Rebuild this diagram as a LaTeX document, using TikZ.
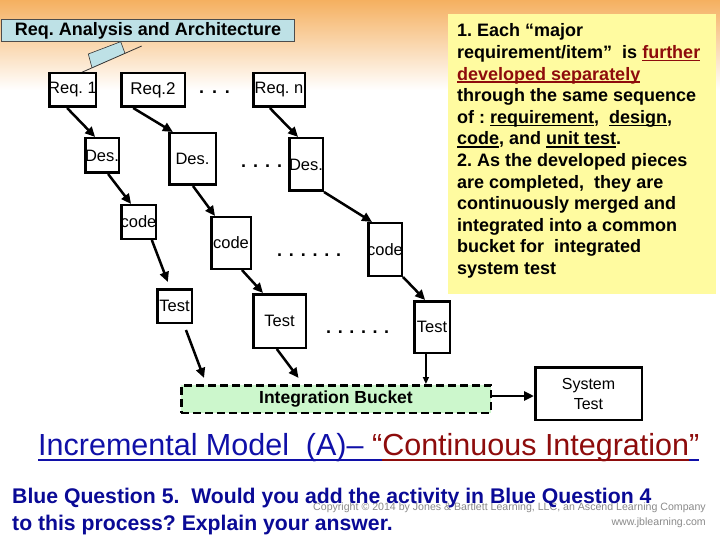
\documentclass[tikz,border=0pt]{standalone}
\usepackage{fontspec}
\setmainfont{Liberation Sans}
\usetikzlibrary{arrows.meta,calc}
\definecolor{bgor}{HTML}{F5B060}
\definecolor{ylw}{HTML}{FFFBA0}
\definecolor{ltblue}{HTML}{BEE1E6}
\definecolor{ltgreen}{HTML}{CCF7CC}
\definecolor{ttblue}{HTML}{1010A8}
\definecolor{ttred}{HTML}{8E0C0C}
\definecolor{qblue}{HTML}{0A0A96}
\definecolor{cpgrey}{HTML}{8A8A8A}
\newcommand\myul[4]{\setbox0\hbox{#4}\leavevmode\rlap{\color{#1}\rule[-#2]{\wd0}{#3}}\box0}
\frenchspacing
\begin{document}
\begin{tikzpicture}[x=1pt,y=-1pt,
  box/.style={draw, line width=2.5pt, fill=white, inner sep=0pt, font=\fontsize{16.5}{18}\selectfont},
  arr/.style={line width=2.5pt, -{Triangle[length=10pt,width=9pt]}},
  thinarr/.style={line width=1.4pt, -{Triangle[length=7pt,width=6pt]}},
  dotrow/.style={anchor=base west, inner sep=0pt, font=\fontsize{18}{20}\bfseries\selectfont},
  txt/.style={inner sep=0pt}]
\useasboundingbox (0,0) rectangle (720,540);
\fill[white] (0,0) rectangle (720,540);
\shade[top color=bgor, bottom color=white] (0,0) rectangle (720,90);

% note box
\fill[ylw] (448,14) rectangle (716,294);
\node[txt, anchor=north west, align=left, font=\fontsize{18}{21.6}\bfseries\selectfont] (note) at (457,21.6)
{\strut 1. Each “major\\
requirement/item”\ \ is \textcolor{ttred}{\myul{ttred}{2.8pt}{1.5pt}{further}}\\
\textcolor{ttred}{\myul{ttred}{2.8pt}{1.5pt}{developed separately}}\\
through the same sequence\\
of : \myul{black}{2.8pt}{1.5pt}{requirement},\ \ \myul{black}{2.8pt}{1.5pt}{design},\\
\myul{black}{2.8pt}{1.5pt}{code}, and \myul{black}{2.8pt}{1.5pt}{unit test}.\\
2. As the developed pieces\\
are completed,\ \ they are\\
continuously merged and\\
integrated into a common\\
bucket for\ \ integrated\\
system test};

% header
\node[draw=black!70, line width=0.8pt, fill=ltblue, minimum width=293pt, minimum height=22pt, inner sep=0pt,
      font=\fontsize{18}{20}\bfseries\selectfont] (hdr) at (148,30.5) {Req. Analysis and Architecture};
\filldraw[fill=ltblue, draw=black!80, line width=0.6pt] (92,67.8) -- (88.3,54) -- (120.7,41.7) -- (125,53.3);
\draw[black!80, line width=0.8pt] (77.3,74.3) -- (141.7,46);

% boxes
\node[box, minimum width=46.5pt, minimum height=33.5pt] (req1) at (72.5,90) {\makebox[0pt]{Req. 1}};
\node[box, minimum width=63.5pt, minimum height=33.5pt, font=\fontsize{17}{18}\selectfont] (req2) at (153,90) {\makebox[0pt]{Req.2}};
\node[box, minimum width=51.5pt, minimum height=33.5pt] (reqn) at (279,90) {\makebox[0pt]{Req. n}};
\node[box, minimum width=33.5pt, minimum height=34.5pt] (des1) at (102,155.5) {\makebox[0pt]{Des.}};
\node[box, minimum width=46.5pt, minimum height=51.5pt] (des2) at (192.5,159) {\makebox[0pt]{Des.}};
\node[box, minimum width=33.5pt, minimum height=52.5pt] (desn) at (306,164.5) {\makebox[0pt]{Des.}};
\node[box, minimum width=34.5pt, minimum height=33.5pt] (code1) at (138.5,222) {\makebox[0pt]{code}};
\node[box, minimum width=39.5pt, minimum height=51.5pt] (code2) at (231,243) {\makebox[0pt]{code}};
\node[box, minimum width=33.5pt, minimum height=52.5pt] (coden) at (385,249.5) {\makebox[0pt]{code}};
\node[box, minimum width=34.5pt, minimum height=33.5pt] (test1) at (174.5,306) {\makebox[0pt]{Test}};
\node[box, minimum width=52.5pt, minimum height=53.5pt] (test2) at (279.5,321) {\makebox[0pt]{Test}};
\node[box, minimum width=35.5pt, minimum height=51.5pt] (testn) at (432,327) {\makebox[0pt]{Test}};

% dots
\node[dotrow] (dots1) at (199,94) {.\hspace{7.8pt}.\hspace{7.8pt}.};
\node[dotrow] (dots2) at (241,167.5) {.\hspace{7pt}.\hspace{7pt}.\hspace{7pt}.};
\node[dotrow] (dots3) at (277,256.5) {.\hspace{6.8pt}.\hspace{6.8pt}.\hspace{6.8pt}.\hspace{6.8pt}.\hspace{6.8pt}.};
\node[dotrow] (dots4) at (326,333.5) {.\hspace{6.6pt}.\hspace{6.6pt}.\hspace{6.6pt}.\hspace{6.6pt}.\hspace{6.6pt}.};

% bucket and system test
\node[draw, dash pattern=on 8pt off 4pt, line width=2.5pt, fill=ltgreen, minimum width=309.5pt, minimum height=27.5pt,
      inner sep=0pt, font=\fontsize{17.5}{20}\bfseries\selectfont] (bucket) at (336,399) {Integration Bucket};
\node[box, minimum width=106.5pt, minimum height=52.5pt, align=center, font=\fontsize{16}{20}\selectfont] (sys) at (588.5,393.5) {System\\Test};

% arrows
\draw[arr] ($(req1.south west)!0.39!(req1.south east)$) -- ($(des1.north west)!0.31!(des1.north east)$);
\draw[arr] ($(req2.south west)!0.2!(req2.south east)$) -- ($(des2.north west)!0.1!(des2.north east)$);
\draw[arr] ($(reqn.south west)!0.33!(reqn.south east)$) -- ($(desn.north west)!0.28!(desn.north east)$);
\draw[arr] ($(des1.south west)!0.67!(des1.south east)$) -- ($(code1.north west)!0.3!(code1.north east)$);
\draw[arr] ($(des2.south west)!0.51!(des2.south east)$) -- ($(code2.north west)!0.12!(code2.north east)$);
\draw[arr] (desn.south east) -- ($(coden.north west)!0.14!(coden.north east)$);
\draw[arr] ($(code1.south west)!0.86!(code1.south east)$) -- ($(test1.north west)!0.32!(test1.north east)+(0,-6)$);
\draw[arr] ($(code2.south west)!0.76!(code2.south east)$) -- ($(test2.north west)!0.2!(test2.north east)$);
\draw[arr] (coden.south east) -- ($(testn.north west)!0.32!(testn.north east)$);
\draw[arr] ($(test1.south west)!0.81!(test1.south east)+(0,6)$) -- ($(bucket.north west)!0.077!(bucket.north east)+(0,-6)$);
\draw[arr] ($(test2.south west)!0.45!(test2.south east)$) -- ($(bucket.north west)!0.38!(bucket.north east)+(0,-6)$);
\coordinate (tb) at ($(testn.south west)!0.34!(testn.south east)$);
\draw[thinarr] (tb) -- (tb |- bucket.north);
\coordinate (be) at ($(bucket.east)+(0,-3)$);
\draw[arr] (be) -- (be -| sys.west);

% title
\node[txt, anchor=base west, font=\fontsize{30.5}{34}\selectfont] (title) at (38,455)
{\myul{ttblue}{6pt}{2pt}{\textcolor{ttblue}{Incremental Model\ \ (A)– }\textcolor{ttred}{“}}\myul{ttred}{6pt}{2pt}{\textcolor{ttred}{Continuous Integration}}\myul{ttblue}{6pt}{2pt}{\textcolor{ttred}{”}}};

% copyright
\node[txt, anchor=base east, font=\fontsize{10.6}{12}\selectfont, text=cpgrey] (cp1) at (706,510) {Copyright © 2014 by Jones \& Bartlett Learning, LLC, an Ascend Learning Company};
\node[txt, anchor=base east, font=\fontsize{10.6}{12}\selectfont, text=cpgrey] (cp2) at (706,525) {www.jblearning.com};

% question
\node[txt, anchor=base west, font=\fontsize{21.2}{26}\bfseries\selectfont, text=qblue] (q1) at (12,503) {Blue Question 5.\ \ Would you add the activity in Blue Question 4};
\node[txt, anchor=base west, font=\fontsize{21.2}{26}\bfseries\selectfont, text=qblue] (q2) at (12,530) {to this process? Explain your answer.};
\end{tikzpicture}
\end{document}
